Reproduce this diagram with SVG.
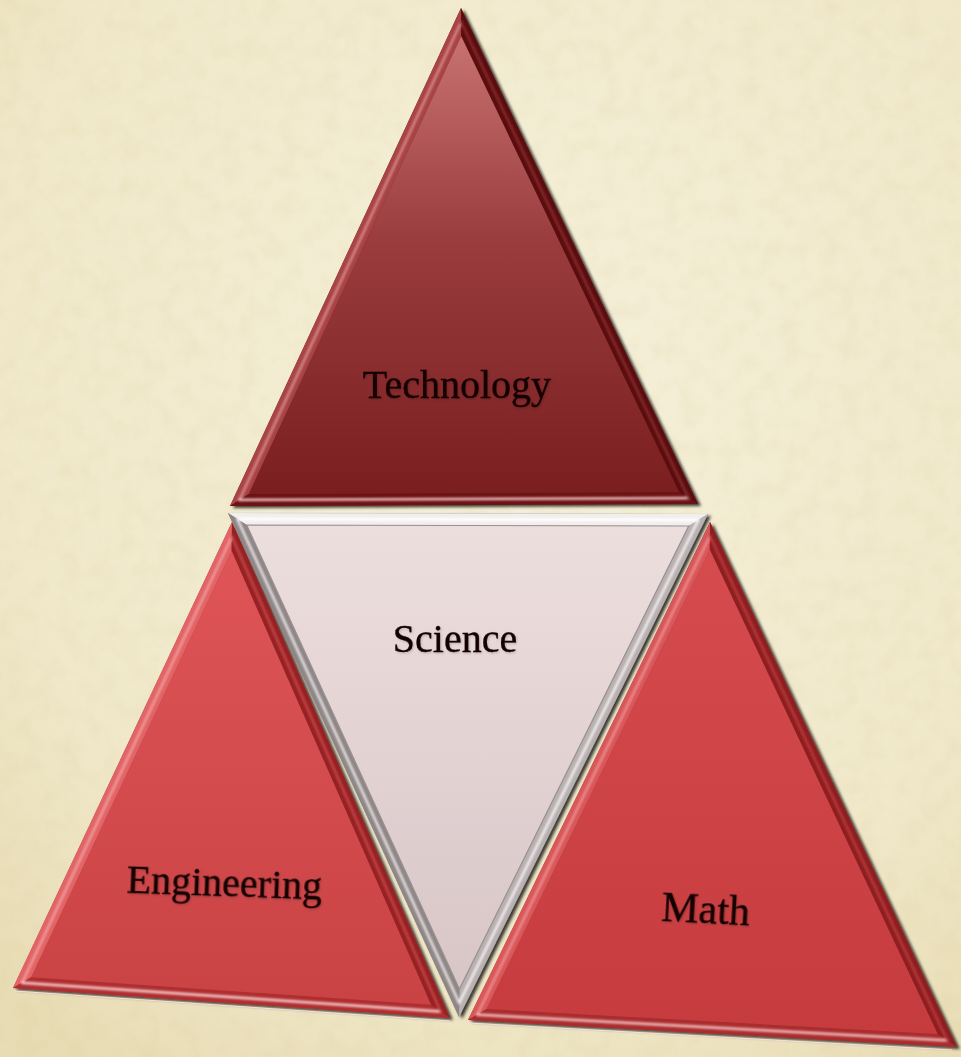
<svg xmlns="http://www.w3.org/2000/svg" width="961" height="1057" viewBox="0 0 961 1057">
  <defs>
    <!-- parchment background -->
    <radialGradient id="paper" cx="0.55" cy="0.35" r="0.8">
      <stop offset="0" stop-color="#f5f0da"/>
      <stop offset="0.7" stop-color="#f0e8c9"/>
      <stop offset="1" stop-color="#e8dcb4"/>
    </radialGradient>
    <filter id="grain" x="0" y="0" width="100%" height="100%">
      <feTurbulence type="fractalNoise" baseFrequency="0.05" numOctaves="3" seed="7" result="n"/>
      <feColorMatrix in="n" type="matrix" values="0 0 0 0 0.62  0 0 0 0 0.52  0 0 0 0 0.25  0 0 0 0.8 -0.32" result="tint"/>
      <feComposite in="tint" in2="SourceGraphic" operator="in"/>
    </filter>
    <filter id="shadow" x="-5%" y="-5%" width="115%" height="115%">
      <feDropShadow dx="3" dy="2" stdDeviation="1.6" flood-color="#000" flood-opacity="0.75"/>
    </filter>
    <filter id="soft" x="-5%" y="-5%" width="110%" height="110%">
      <feGaussianBlur stdDeviation="0.9"/>
    </filter>
    <filter id="txtshadow" x="-10%" y="-20%" width="120%" height="150%">
      <feDropShadow dx="1" dy="1.2" stdDeviation="0.8" flood-color="#000" flood-opacity="0.18"/>
    </filter>

    <!-- face gradients -->
    <linearGradient id="techFace" x1="0" y1="0" x2="0" y2="1">
      <stop offset="0" stop-color="#c87272"/>
      <stop offset="0.45" stop-color="#9a3c3d"/>
      <stop offset="1" stop-color="#7a1e20"/>
    </linearGradient>
    <linearGradient id="sciFace" x1="0" y1="0" x2="0" y2="1">
      <stop offset="0" stop-color="#eddede"/>
      <stop offset="1" stop-color="#d8c6c7"/>
    </linearGradient>
    <linearGradient id="engFace" x1="0" y1="0" x2="0" y2="1">
      <stop offset="0" stop-color="#df5557"/>
      <stop offset="1" stop-color="#c94244"/>
    </linearGradient>
    <linearGradient id="mathFace" x1="0" y1="0" x2="0" y2="1">
      <stop offset="0" stop-color="#d64c4e"/>
      <stop offset="1" stop-color="#c63c3e"/>
    </linearGradient>

    <style>
      .lbl { font-family: "Liberation Serif", "DejaVu Serif", serif; font-size: 40px; fill: #140606; stroke: #140606; stroke-width: 0.35px; text-anchor: middle; }
      .hl { fill: none; stroke-linecap: round; stroke-width: 2.6; }
      .edge { fill: none; stroke-width: 1.2; }
    </style>
  </defs>

  <!-- background -->
  <rect width="961" height="1057" fill="url(#paper)"/>
  <rect width="961" height="1057" fill="#fff" filter="url(#grain)" opacity="0.3"/>

  <!-- Technology (top) -->
  <g id="technology">
    <polygon points="461,8 230,506 698,504" fill="#7a1c1e" filter="url(#shadow)"/>
    <polygon points="461,8 230,506 248.8,493.9 461.2,36.2" fill="#a94446"/>
    <polygon points="230,506 698,504 679,492.1 248.8,493.9" fill="#6c1315"/>
    <polygon points="698,504 461,8 461.2,36.2 679,492.1" fill="#5a0e10"/>
    <polygon points="461.2,36.2 248.8,493.9 679,492.1" fill="url(#techFace)"/>
    <g filter="url(#soft)">
      <polyline class="hl" points="461,8 230,506" stroke="#d68888" transform="translate(463 356.5) scale(0.9596) translate(-463 -356.5)"/>
      <polyline class="hl" points="230,506 698,504" stroke="#f2c2c2" transform="translate(463 356.5) scale(0.9596) translate(-463 -356.5)"/>
      <polyline class="hl" points="698,504 461,8" stroke="#8a2a2c" transform="translate(463 356.5) scale(0.9596) translate(-463 -356.5)"/>
    </g>
    <text class="lbl" x="457" y="398" filter="url(#txtshadow)">Technology</text>
  </g>

  <!-- Engineering (bottom left) -->
  <g id="engineering">
    <polygon points="232,522 13,988 450,1018" fill="#b23436" filter="url(#shadow)"/>
    <polygon points="232,522 13,988 31.3,977.2 231.6,551" fill="#e26466"/>
    <polygon points="13,988 450,1018 431,1004.7 31.3,977.2" fill="#b02e30"/>
    <polygon points="450,1018 232,522 231.6,551 431,1004.7" fill="#962224"/>
    <polygon points="231.6,551 31.3,977.2 431,1004.7" fill="url(#engFace)"/>
    <g filter="url(#soft)">
      <polyline class="hl" points="232,522 13,988" stroke="#f09a9a" transform="translate(227.7 861.8) scale(0.9573) translate(-227.7 -861.8)"/>
      <polyline class="hl" points="13,988 450,1018" stroke="#fbd6d6" transform="translate(227.7 861.8) scale(0.9573) translate(-227.7 -861.8)"/>
      <polyline class="hl" points="450,1018 232,522" stroke="#c64648" transform="translate(227.7 861.8) scale(0.9573) translate(-227.7 -861.8)"/>
    </g>
    <line x1="14" y1="991" x2="450" y2="1021" stroke="#f6dede" stroke-width="1.2"/>
    <text class="lbl" x="224" y="896" transform="rotate(2 224 896)" filter="url(#txtshadow)">Engineering</text>
  </g>

  <!-- Math (bottom right) -->
  <g id="math">
    <polygon points="710,522 468,1020 957,1047" fill="#a92e30" filter="url(#shadow)"/>
    <polygon points="710,522 468,1020 486.7,1009 709.8,549.8" fill="#d8585a"/>
    <polygon points="468,1020 957,1047 937.6,1033.9 486.7,1009" fill="#ab2c2e"/>
    <polygon points="957,1047 710,522 709.8,549.8 937.6,1033.9" fill="#8e1f21"/>
    <polygon points="709.8,549.8 486.7,1009 937.6,1033.9" fill="url(#mathFace)"/>
    <g filter="url(#soft)">
      <polyline class="hl" points="710,522 468,1020" stroke="#ee8c8e" transform="translate(707.7 879) scale(0.961) translate(-707.7 -879)"/>
      <polyline class="hl" points="468,1020 957,1047" stroke="#f6c8c8" transform="translate(707.7 879) scale(0.961) translate(-707.7 -879)"/>
      <polyline class="hl" points="957,1047 710,522" stroke="#b93a3c" transform="translate(707.7 879) scale(0.961) translate(-707.7 -879)"/>
    </g>
    <line x1="468" y1="1023" x2="952" y2="1050" stroke="#f6dede" stroke-width="1.2"/>
    <text class="lbl" x="705" y="923" style="font-size:42px" transform="rotate(3 705 923)" filter="url(#txtshadow)">Math</text>
  </g>

  <!-- Science (centre, inverted) -->
  <g id="science">
    <polygon points="228,513 708,514 459,1017" fill="#8a8282" filter="url(#shadow)"/>
    <polygon points="228,513 708,514 688.7,526 246.7,525" fill="#f3eeee"/>
    <polygon points="708,514 459,1017 459.4,989.1 688.7,526" fill="#b9b1b1"/>
    <polygon points="459,1017 228,513 246.7,525 459.4,989.1" fill="#8f8787"/>
    <polygon points="246.7,525 688.7,526 459.4,989.1" fill="url(#sciFace)"/>
    <g filter="url(#soft)">
      <polyline class="hl" points="228,513 708,514" stroke="#ffffff" transform="translate(464.3 665) scale(0.9604) translate(-464.3 -665)"/>
      <polyline class="hl" points="708,514 459,1017" stroke="#f4f0f0" transform="translate(464.3 665) scale(0.9604) translate(-464.3 -665)"/>
      <polyline class="hl" points="459,1017 228,513" stroke="#e8e2e2" transform="translate(464.3 665) scale(0.9604) translate(-464.3 -665)"/>
    </g>
    <polygon class="edge" points="246.7,525 688.7,526 459.4,989.1" stroke="#9a9090"/>
    <text class="lbl" x="455" y="652" filter="url(#txtshadow)">Science</text>
  </g>
</svg>
